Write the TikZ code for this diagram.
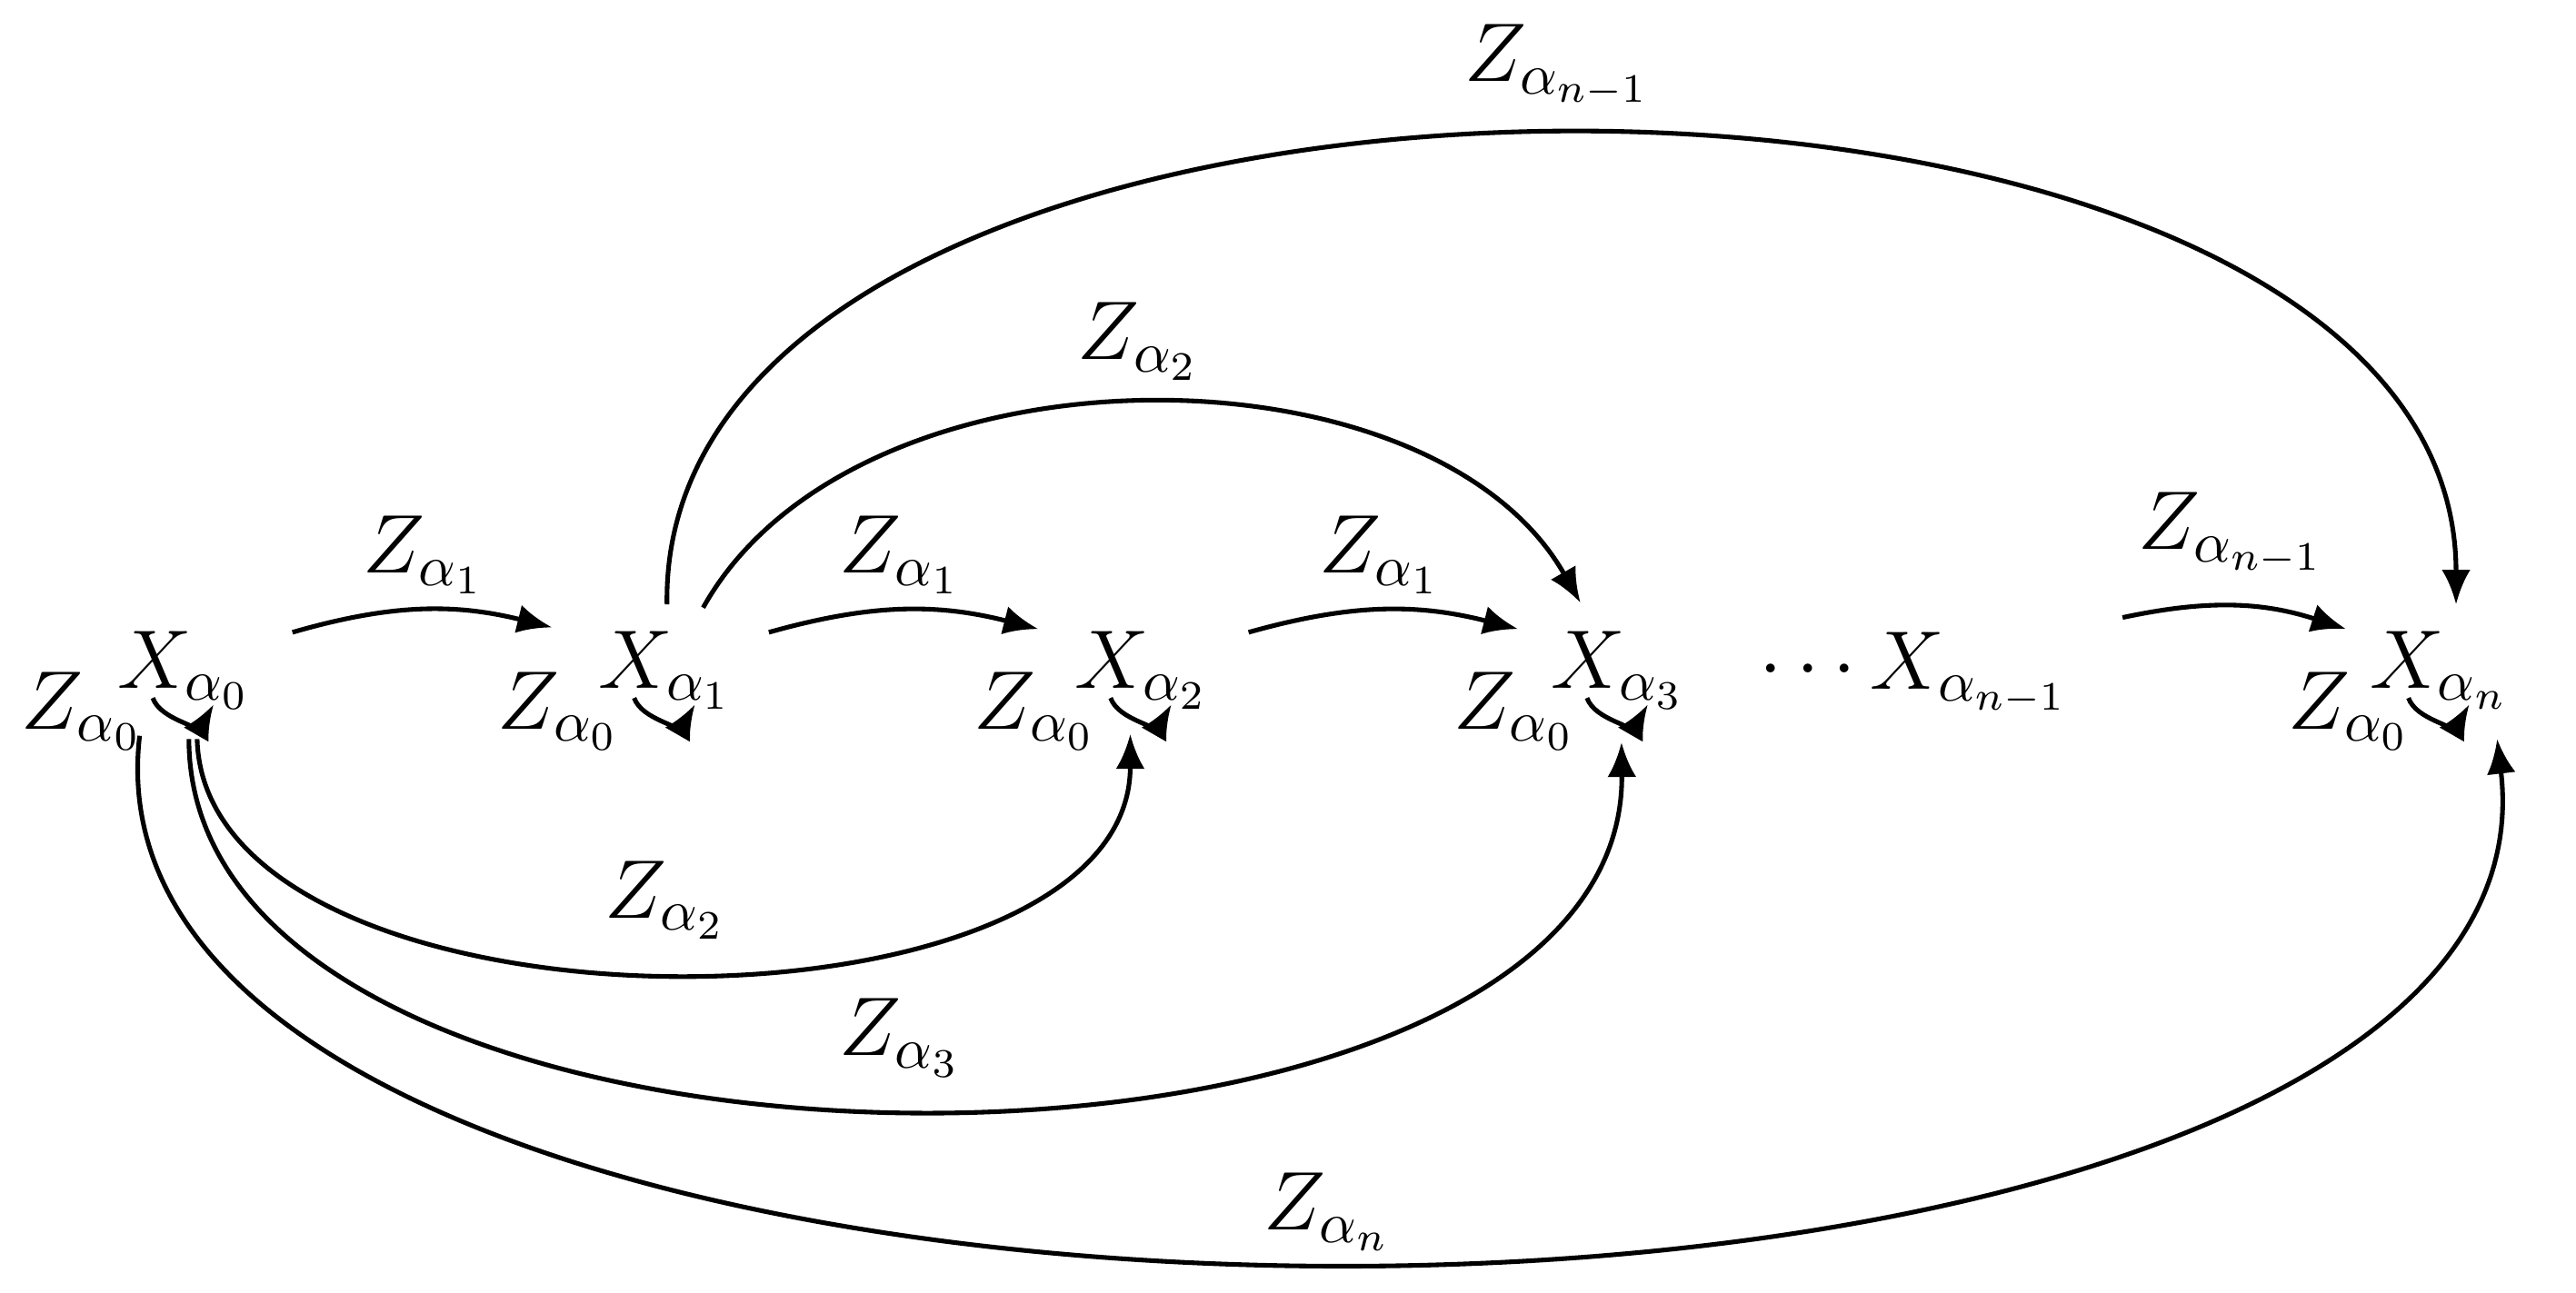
\documentclass[tikz,border=0pt]{standalone}
\usetikzlibrary{arrows.meta,calc}
\begin{document}
\begin{tikzpicture}[x=0.01cm,y=-0.01cm,
  lbl/.style={font=\fontsize{14}{16}\selectfont},
  arr/.style={thick,-{Latex[length=6pt,width=5pt]}}]
\useasboundingbox (0,0) rectangle (1568,787);
\node[lbl] (X0) at (112,408) {$X_{\alpha_0}$};
\node[lbl] (X1) at (405,408) {$X_{\alpha_1}$};
\node[lbl] (X2) at (695,408) {$X_{\alpha_2}$};
\node[lbl] (X3) at (985,408) {$X_{\alpha_3}$};
\node[lbl] (Xm) at (1165,410) {$\cdots X_{\alpha_{n-1}}$};
\node[lbl] (Xn) at (1485,408) {$X_{\alpha_n}$};
\foreach \n in {X0,X1,X2,X3,Xn}{
  \coordinate (\n s) at ($(\n)+(-19,17)$);
  \coordinate (\n e) at ($(\n)+(18,21)$);
  \draw[arr] (\n s) to[out=-70,in=-120] (\n e);
}
\node[lbl] (L0) at (50,433) {$Z_{\alpha_0}$};
\node[lbl] (L1) at (340,433) {$Z_{\alpha_0}$};
\node[lbl] (L2) at (630,433) {$Z_{\alpha_0}$};
\node[lbl] (L3) at (922,433) {$Z_{\alpha_0}$};
\node[lbl] (Ln) at (1430,433) {$Z_{\alpha_0}$};
% straight-ish edges
\coordinate (a1) at (178,385); \coordinate (b1) at (336,382);
\coordinate (a2) at (468,385); \coordinate (b2) at (632,383);
\coordinate (a3) at (760,385); \coordinate (b3) at (924,383);
\coordinate (a4) at (1292,376); \coordinate (b4) at (1428,383);
\draw[arr] (a1) to[bend left=15] (b1);
\draw[arr] (a2) to[bend left=15] (b2);
\draw[arr] (a3) to[bend left=15] (b3);
\draw[arr] (a4) to[bend left=15] (b4);
\node[lbl] (e1) at (258,338) {$Z_{\alpha_1}$};
\node[lbl] (e2) at (548,338) {$Z_{\alpha_1}$};
\node[lbl] (e3) at (840,338) {$Z_{\alpha_1}$};
\node[lbl] (e4) at (1358,325) {$Z_{\alpha_{n-1}}$};
% top arcs
\coordinate (t1s) at (428,370); \coordinate (t1e) at (962,367);
\draw[arr] (t1s) .. controls (520,205) and (870,205) .. (t1e);
\node[lbl] (e5) at (693,208) {$Z_{\alpha_2}$};
\coordinate (t2s) at (406,368); \coordinate (t2e) at (1495,368);
\draw[arr] (t2s) .. controls (400,-13) and (1495,-13) .. (t2e);
\node[lbl] (e6) at (948,40) {$Z_{\alpha_{n-1}}$};
% bottom arcs
\coordinate (u1s) at (120,450); \coordinate (u1e) at (688,447);
\draw[arr] (u1s) .. controls (125,640) and (688,640) .. (u1e);
\node[lbl] (e7) at (405,548) {$Z_{\alpha_2}$};
\coordinate (u2s) at (115,450); \coordinate (u2e) at (987,452);
\draw[arr] (u2s) .. controls (115,750) and (990,750) .. (u2e);
\node[lbl] (e8) at (548,632) {$Z_{\alpha_3}$};
\coordinate (u3s) at (85,448); \coordinate (u3e) at (1520,450);
\draw[arr] (u3s) .. controls (35,875) and (1570,875) .. (u3e);
\node[lbl] (e9) at (808,738) {$Z_{\alpha_n}$};
\end{tikzpicture}
\end{document}
